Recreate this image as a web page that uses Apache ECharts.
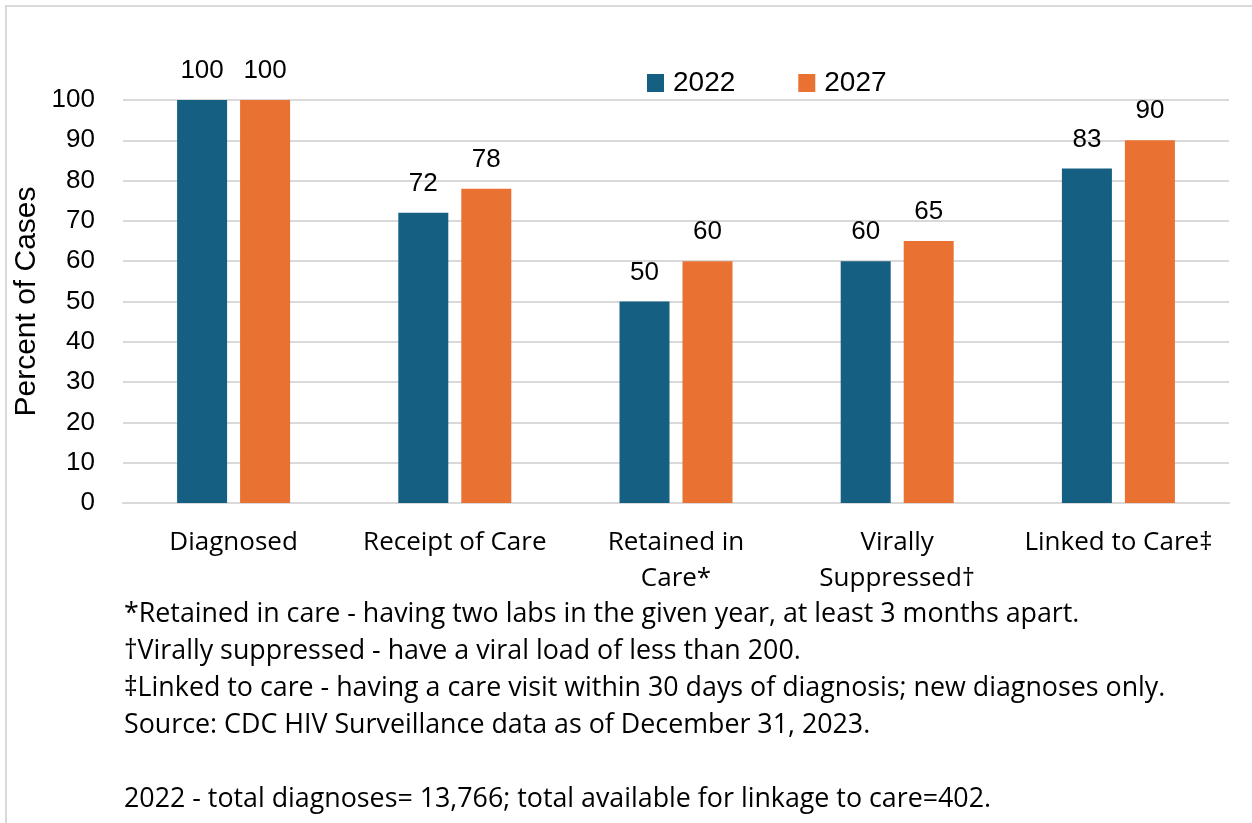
<!DOCTYPE html>
<html><head><meta charset="utf-8">
<script src="https://cdn.jsdelivr.net/npm/echarts@6/dist/echarts.min.js"></script>
<style>html,body{margin:0;padding:0;background:#fff}#c{width:1252px;height:823px}</style>
</head><body><div id="c"></div>
<script>
var categories = ['Diagnosed', 'Receipt of Care', 'Retained in\nCare*', 'Virally\nSuppressed†', 'Linked to Care‡'];
var series2022 = [100, 72, 50, 60, 83];
var series2027 = [100, 78, 60, 65, 90];
var yTicks = [0, 10, 20, 30, 40, 50, 60, 70, 80, 90, 100];
var footnotes = [
  '*Retained in care - having two labs in the given year, at least 3 months apart.',
  '†Virally suppressed - have a viral load of less than 200.',
  '‡Linked to care - having a care visit within 30 days of diagnosis; new diagnoses only.',
  'Source: CDC HIV Surveillance data as of December 31, 2023.',
  '',
  '2022 - total diagnoses= 13,766; total available for linkage to care=402.'
];
var FONT = '"Open Sans", sans-serif';
var NUMFONT = '"Liberation Sans", Arial, sans-serif';
var chart = echarts.init(document.getElementById('c'));
var footGraphics = footnotes.map(function (t, i) {
  return { type: 'text', left: 124, top: 601 + i * 37, style: { text: t, font: '26.8px ' + FONT, fill: '#000' } };
});
footGraphics.unshift({ type: 'rect', shape: { x: 6, y: 6, width: 1300, height: 900 }, style: { fill: 'none', stroke: '#d9d9d9', lineWidth: 2 } });
chart.setOption({
  animation: false,
  textStyle: { fontFamily: FONT },
  grid: { left: 123, right: 23, top: 100, bottom: 320 },
  legend: {
    left: 642, top: 64, itemWidth: 17, itemHeight: 18, itemGap: 63,
    icon: 'rect',
    textStyle: { fontSize: 28, lineHeight: 28, color: '#000', fontFamily: NUMFONT, padding: [0, 0, 0, 4] },
    data: ['2022', '2027']
  },
  xAxis: {
    type: 'category', data: categories,
    axisLine: { lineStyle: { color: '#d9d9d9', width: 2 } },
    axisTick: { show: false },
    axisLabel: { fontSize: 26, color: '#000', margin: 22, lineHeight: 36, interval: 0, fontFamily: FONT }
  },
  yAxis: {
    type: 'value', min: yTicks[0], max: yTicks[yTicks.length - 1], interval: 10,
    name: 'Percent of Cases', nameLocation: 'middle', nameGap: 81, nameRotate: 90,
    nameMoveOverlap: false,
    nameTextStyle: { fontSize: 30, color: '#000', fontFamily: NUMFONT },
    axisLine: { show: false }, axisTick: { show: false },
    axisLabel: { fontSize: 26, color: '#000', margin: 28, fontFamily: NUMFONT },
    splitLine: { lineStyle: { color: '#d9d9d9', width: 2 } }
  },
  series: [
    { name: '2022', type: 'bar', data: series2022, barWidth: 50, barGap: '26%',
      itemStyle: { color: '#156082' },
      label: { show: true, position: 'top', distance: 16, fontSize: 26, color: '#000', fontFamily: NUMFONT } },
    { name: '2027', type: 'bar', data: series2027, barWidth: 50,
      itemStyle: { color: '#E97132' },
      label: { show: true, position: 'top', distance: 16, fontSize: 26, color: '#000', fontFamily: NUMFONT } }
  ],
  graphic: footGraphics
});
</script></body></html>
